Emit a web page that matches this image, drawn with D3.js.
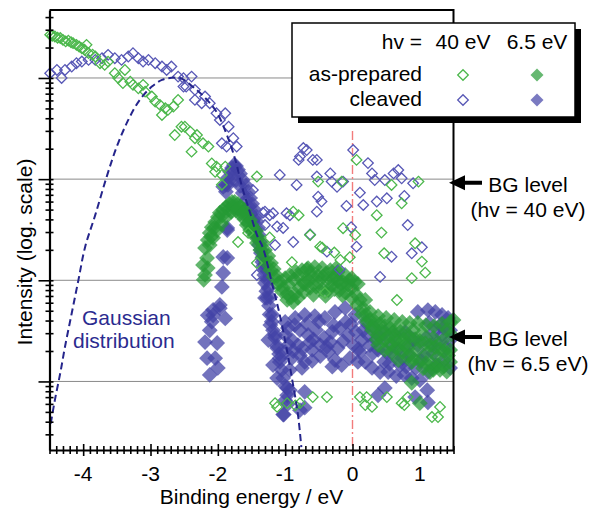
<!DOCTYPE html>
<html>
<head>
<meta charset="utf-8">
<script src="https://cdn.jsdelivr.net/npm/d3@7"></script>
<style>
body { margin: 0; background: #fff; }
svg text { font-family: "Liberation Sans", Arial, sans-serif; font-size: 21px; }
</style>
</head>
<body>
<div id="chart-container"></div>
<script>

// binding energy (eV), intensity (arb. units, log axis)
const openGreen40 = [
  [-4.49,2670],[-4.46,2620],[-4.42,2570],[-4.38,2500],[-4.34,2480],[-4.30,2380],[-4.26,2300],[-4.22,2340],
  [-4.18,2260],[-4.15,2210],[-4.10,2125],[-4.06,2050],[-4.02,1970],[-3.98,1900],[-3.95,2125],[-3.92,1760],
  [-3.86,1700],[-3.82,1630],[-3.75,1400],[-3.68,1350],[-3.63,1450],[-3.53,1115],[-3.48,1000],[-3.38,1200],
  [-3.41,890],[-3.30,920],[-3.26,855],[-3.18,790],[-3.11,855],[-3.08,733],[-2.98,655],[-2.93,584],
  [-2.86,542],[-2.78,503],[-2.83,431],[-2.74,484],[-2.66,522],[-2.59,607],[-2.64,273],[-2.54,330],
  [-2.49,330],[-2.41,295],[-2.31,273],[-2.34,254],[-2.22,226],[-2.14,210],[-2.39,187],[-2.09,143],
  [-2.02,133],[-1.89,133],[-2.04,118],[-1.94,110],[-1.94,88],[-1.42,106],[-0.88,47.7],[-0.80,44],
  [-0.51,94.5],[-0.16,94.5],[0.06,155],[0.58,87.6],[0.73,57.7],[0.98,94.5],[0.36,44],[-0.14,32.7],
  [0.04,28.1],[0.43,29.6],[-0.48,21.5],[-0.27,18.8],[-0.04,16.9],[0.47,18.5],[0.93,23.2],[1.03,15.3],
  [1.08,11.9],[0.88,10.5],[-0.41,7.49],[0.66,6.38],[-0.38,0.70],[0.21,0.70],[0.19,0.584],[0.29,0.56],
  [0.51,0.70],[0.77,0.584],[0.82,0.70],[1.30,0.56],[1.18,0.445],[1.27,0.445],[-0.18,15.9],[-0.97,0.61],
  [-0.78,0.61],[0.11,0.70],[0.73,0.61],[-1.15,0.61],[-0.85,0.58],[-1.12,0.56],[-0.59,0.70],[-1.70,23.9],
  [-1.55,29.4],[-0.63,28],[-0.45,21],[-1.23,26.5],[-0.90,15.1],[-1.42,14.8]
];

const openBlue40 = [
  [-4.49,1115],[-4.39,1200],[-4.32,1000],[-4.27,1200],[-4.17,1297],[-4.10,1400],[-4.02,1453],[-3.92,1510],
  [-3.82,1510],[-3.72,1570],[-3.63,1693],[-3.53,1570],[-3.43,1510],[-3.33,1628],[-3.26,1760],[-3.18,1570],
  [-3.11,1453],[-3.03,1510],[-2.93,1400],[-2.83,1297],[-2.76,1200],[-2.69,1297],[-2.59,1032],[-2.51,822],
  [-2.51,995],[-2.39,1032],[-2.47,822],[-2.34,763],[-2.34,607],[-2.19,655],[-2.12,563],[-2.24,563],
  [-2.02,448],[-1.89,448],[-1.97,385],[-1.84,330],[-1.94,226],[-1.77,254],[-1.72,210],[-1.87,210],
  [-1.08,110],[-0.80,155],[-0.68,194],[-0.83,87.6],[-1.30,47.7],[-1.18,46],[-0.98,46],[-0.53,106],
  [-0.53,155],[-0.33,114],[-0.31,94.5],[-0.23,84],[-0.14,94.5],[0.01,194],[0.23,144],[0.29,114],
  [0.33,98],[0.48,98],[0.61,114],[0.68,123],[0.73,102],[0.90,91],[-0.51,67],[-0.46,60],
  [-0.53,47.7],[-0.09,54.3],[0.11,73.5],[0.16,55.5],[0.36,60],[0.51,64.7],[0.77,68.2],[0.82,35.2],
  [-0.02,33.5],[0.06,21.5],[-0.38,19.2],[0.58,17.1],[0.88,18.5],[1.03,21.2],[-0.19,12.8],[0.41,10.8],
  [-0.73,203],[-0.78,167],[-0.59,155],[-1.42,11.3],[-1.23,44],[-1.03,32.9],[-0.88,23.9],[-0.63,28.4],
  [-0.93,44],[-1.30,35.2],[-1.48,78],[-1.33,46.5],[-1.12,34],[-1.15,22.3]
];

const filledGreen65 = [
  [-2.19,11.3],[-2.22,14.2],[-2.16,16.6],[-2.19,20.9],[-2.15,25.0],[-2.12,29.4],[-2.09,33.5],[-2.04,37.6],
  [-2.00,42.2],[-1.97,46.5],[-1.92,49.6],[-1.88,53.0],[-1.83,56.9],[-1.79,59.5],[-1.75,59.5],[-1.70,56.9],
  [-1.66,53.0],[-1.61,49.6],[-1.57,44.3],[-1.52,39.5],[-1.48,34.4],[-1.43,30.7],[-1.39,26.3],[-1.34,22.8],
  [-1.30,19.9],[-1.25,17.4],[-1.21,14.8],[-1.17,12.9],[-1.12,11.0],[-1.08,9.6],[-1.03,8.4],[-0.97,7.3],
  [-0.91,6.8],[-0.85,7.3],[-0.79,8.4],[-0.73,9.4],[-0.66,10.1],[-0.59,10.8],[-0.51,11.0],[-0.44,10.8],
  [-0.36,10.5],[-0.29,10.3],[-0.22,9.8],[-0.14,9.6],[-0.07,9.0],[-0.01,8.4],[0.05,7.3],[0.11,6.4],
  [0.16,5.3],[0.20,4.6],[0.26,4.05],[0.34,3.87],[0.41,3.70],[0.48,3.53],[0.56,3.37],[0.63,3.22],
  [0.71,3.08],[0.78,2.95],[0.85,2.75],[0.93,2.62],[1.00,2.51],[1.08,2.39],[1.15,2.29],[1.23,2.19],
  [1.30,2.09],[1.37,2.00],[1.45,2.05],
  [-2.12,22.3],[-2.07,26.3],[-2.01,31.4],[-1.95,36.0],[-1.88,42.2],[-1.80,47.5],[-1.73,48.5],[-1.67,45.3],
  [-1.61,40.4],[-1.57,35.2],[-1.52,31.4],[-1.46,27.5],[-1.42,23.4],[-1.37,19.9],[-1.33,17.0],[-1.28,14.8],
  [-1.22,12.6],[-1.17,10.8],[-1.11,9.2],[-1.05,7.8],[-0.97,6.4],[-0.88,6.1],[-0.81,6.7],[-0.72,7.7],
  [-0.63,8.4],[-0.54,8.6],[-0.45,8.2],[-0.36,8.0],[-0.27,8.2],[-0.19,8.0],[-0.10,7.5],[-0.01,6.7],
  [0.07,5.7],[0.14,4.6],[0.22,3.87],[0.29,3.22],[0.38,2.88],[0.47,2.57],[0.56,2.34],[0.65,2.14],
  [0.74,1.95],[0.83,1.78],[0.91,1.67],[1.00,1.59],[1.09,1.52],[1.18,1.49],[1.27,1.45],[1.36,1.42],[1.45,1.56],
  [-1.00,10.5],[-0.93,11.3],[-0.84,12.1],[-0.75,12.6],[-0.66,13.2],[-0.56,13.5],[-0.45,13.2],[-0.33,12.6],
  [-0.22,12.1],[-0.11,11.3],[-0.01,10.5],[0.08,9.2],[0.19,6.4],[0.26,4.86],[0.38,4.43],[0.50,4.24],
  [0.62,4.05],[0.74,3.87],[0.85,3.78],[0.97,3.78],[1.09,3.61],[1.21,3.53],[1.33,3.70],[1.45,3.87],
  [-0.95,9.0],[-0.87,10.2],[-0.80,11.0],[-0.70,9.2],[-0.62,11.8],[-0.50,9.6],[-0.40,11.6],[-0.31,9.0],
  [-0.25,10.9],[-0.17,9.3],[-0.05,10.0],[0.03,9.6],[-0.58,7.2],[-0.40,7.0],[-0.15,7.1],[-0.68,12.8],[-0.25,13.0],
  [0.30,3.5],[0.36,2.6],[0.44,3.1],[0.52,2.75],[0.60,3.0],[0.67,2.45],[0.76,2.6],[0.82,2.1],
  [0.90,3.2],[0.96,2.05],[1.04,3.0],[1.12,1.9],[1.20,2.7],[1.26,1.75],[1.33,2.5],[1.42,1.8],
  [1.47,2.9],[0.58,1.95],[0.88,1.55],[1.05,1.35],[1.20,1.30],[1.40,1.25],
  [-1.84,50],[-1.77,54],[-1.70,51],[-1.63,46],[-1.93,44],[-2.05,33],[-2.10,27],[-1.55,36.5],[-1.49,31],
  [-2.15,13.2],[-2.21,10.1],[1.50,4.05],[1.00,0.61],[1.40,3.22],[0.78,2.29],[0.48,2.05],[0.68,1.63],
  [1.15,1.24],[1.30,1.30],[0.38,2.29],[0.63,2.57],[0.88,0.97]
];

const filledBlue65 = [
  [-1.88,88],[-1.85,103],[-1.82,118],[-1.79,129],[-1.76,138],[-1.73,135],[-1.70,124],[-1.67,113],
  [-1.63,98],[-1.58,86],[-1.55,75],[-1.52,65],[-1.49,57],[-1.46,50],[-1.43,43],[-1.42,38],
  [-1.40,33],[-1.39,28],[-1.37,24],[-1.36,20],[-1.34,16.6],[-1.33,13.8],[-1.31,11.3],[-1.30,9.4],
  [-1.28,7.8],[-1.27,6.7],[-1.24,5.6],[-1.23,4.6],[-1.20,3.9],[-1.18,3.2],[-1.15,2.7],[-1.12,2.24],
  [-1.09,1.87],[-1.08,1.56],[-1.05,1.30],[-1.03,1.08],[-1.00,0.90],[-0.97,0.73],[-0.96,0.60],[-1.02,0.47],
  [-1.85,87.6],[-1.79,103],[-1.73,98],[-1.67,85.7],[-1.63,73],[-1.58,62.3],[-1.54,53],[-1.51,45.3],
  [-1.48,38.6],[-1.45,32.3],[-1.42,26.8],[-1.39,22.3],[-1.36,18.6],[-1.34,15.2],[-1.31,12.6],[-1.28,10.3],
  [-1.25,8.4],[-1.22,6.8],[-1.92,84],[-1.88,75],
  [-1.86,31.4],[-1.92,17.0],[-1.92,11.8],[-1.94,8.6],[-1.97,5.3],[-2.07,4.5],[-2.15,4.5],[-2.12,3.2],
  [-2.19,2.45],[-2.01,2.4],[-2.04,1.70],[-2.00,1.36],[-2.12,1.16],[-2.16,1.70],[-2.07,5.1],[-1.97,5.7],
  [-1.89,4.2],[-2.09,3.9],[-1.86,16.6],[-1.86,32.9],
  [-1.30,6.7],[-1.22,3.61],[-1.12,2.14],[-1.08,1.70],[-1.12,1.08],[-0.97,0.86],[-1.03,0.47],[-1.15,2.88],
  [-1.19,4.54],[-1.25,2.57],[-1.18,1.45],[-1.00,0.65],
  [-1.00,3.87],[-0.85,4.24],[-0.71,4.54],[-0.56,4.43],[-0.41,4.24],[-0.26,4.86],[-0.11,5.32],[0.04,4.54],
  [0.19,3.87],[0.33,3.37],[0.48,3.08],[0.63,2.88],[0.78,3.08],[0.97,4.86],[1.12,5.08],[1.23,4.86],
  [1.33,4.54],[1.42,4.24],
  [-1.00,2.88],[-0.90,2.57],[-0.78,3.22],[-0.66,2.88],[-0.54,3.22],[-0.42,2.69],[-0.30,3.08],[-0.19,3.37],
  [-0.07,2.88],[0.05,3.08],[0.14,2.57],[0.26,2.29],[0.38,2.05],[0.50,1.95],[0.62,1.78],[0.74,1.70],
  [0.85,1.82],[0.97,2.29],[1.09,2.69],[1.21,3.08],[1.33,2.88],[1.45,2.57],
  [-1.00,1.95],[-0.90,1.70],[-0.78,1.82],[-0.71,1.56],[-0.60,2.05],[-0.48,1.78],[-0.36,1.95],[-0.26,1.63],
  [-0.16,1.45],[-0.04,1.70],[0.08,1.56],[0.19,1.56],[0.29,1.36],[0.41,1.24],[0.53,1.24],[0.65,1.13],
  [0.77,1.16],[0.88,1.08],[1.00,1.03],[1.12,1.24],[1.24,1.45],[1.36,1.63],[1.45,1.36],
  [-0.96,3.37],[-0.81,2.29],[-0.63,2.45],[-0.48,2.29],[-0.33,2.45],[-0.22,2.14],[-0.10,3.87],[0.01,2.29],
  [0.11,1.95],[0.23,2.88],[0.35,2.57],[0.47,1.56],[0.59,2.29],[0.71,1.45],[0.83,2.29],[0.94,1.36],
  [1.06,1.82],[1.18,2.29],[1.30,3.61],[1.39,2.14],
  [-0.95,2.3],[-0.86,3.6],[-0.74,2.1],[-0.68,3.7],[-0.58,2.6],[-0.50,3.9],[-0.38,2.2],[-0.28,3.6],
  [-0.14,2.5],[-0.02,3.7],[0.09,2.1],[0.16,3.2],[0.30,1.9],[0.42,2.7],[0.55,1.5],[0.68,2.1],
  [0.80,1.4],[0.90,2.6],[1.02,1.6],[1.14,3.8],[1.26,2.4],[1.35,3.4],[1.45,3.2],[1.20,1.9],
  [-0.88,2.0],[-0.60,1.6],[-0.30,1.4],
  [-0.71,0.79],[-0.71,0.55],[-0.75,1.36],[-0.93,1.30],[-0.93,0.82],[-0.78,0.52],[0.48,0.86],[0.38,0.73],
  [0.93,0.70],[1.12,0.62],[1.11,0.82]
];

// dashed gaussian
const gaussCurve = [
  [-4.54,0.235],[-4.49,0.356],[-4.42,0.655],[-4.34,1.21],[-4.27,2.20],[-4.17,4.72],[-4.07,10.1],[-3.97,21.5],
  [-3.82,44.3],[-3.65,106],[-3.50,210],[-3.33,385],[-3.16,607],[-2.98,822],[-2.83,957],[-2.71,1000],
  [-2.56,1000],[-2.37,817],[-2.16,607],[-2.01,451],[-1.86,267],[-1.74,155],[-1.64,83.7],[-1.52,46.3],
  [-1.42,28.1],[-1.33,20.9],[-1.20,9.6],[-1.08,4.54],[-0.98,2.14],[-0.89,0.99],[-0.81,0.47],[-0.76,0.224]
];

const legendCols = ["40 eV", "6.5 eV"];
const legendRows = ["as-prepared", "cleaved"];
const bgLevels = [
  {label: "(hv = 40 eV)", level: 92},
  {label: "(hv = 6.5 eV)", level: 2.75}
];

const openColor = {green: "#4cb84c", blue: "#5858b6"};
const fillColor = {green: "#259a34", blue: "#4242a6"};

const svg = d3.select("#chart-container")
    .append("svg")
    .attr("width", 589)
    .attr("height", 508);

const x = d3.scaleLinear().domain([-4.5, 1.5]).range([49.5, 453.5]);
const y = d3.scaleLog().domain([0.21, 4700]).range([450, 10]);

const isMajorLog = d => Math.abs(Math.log10(d) - Math.round(Math.log10(d))) < 1e-6;
const isInt = d => Math.abs(d - Math.round(d)) < 1e-6;

svg.append("defs").append("clipPath").attr("id", "plotclip")
    .append("rect")
    .attr("x", x.range()[0]).attr("y", y.range()[1])
    .attr("width", x.range()[1] - x.range()[0])
    .attr("height", y.range()[0] - y.range()[1]);

// decade grid
svg.append("g")
    .selectAll("line")
    .data(y.ticks().filter(isMajorLog))
    .enter()
    .append("line")
    .attr("x1", x.range()[0]).attr("x2", x.range()[1])
    .attr("y1", d => y(d)).attr("y2", d => y(d))
    .attr("stroke", "#8a8a8a")
    .attr("stroke-width", 1);

// E_F marker
svg.append("line")
    .attr("x1", x(0)).attr("x2", x(0))
    .attr("y1", 131).attr("y2", y.range()[0])
    .attr("stroke", "#f27c7c")
    .attr("stroke-width", 1.4)
    .attr("stroke-dasharray", "9,3,2,3");

const openSym = d3.symbol().type(d3.symbolSquare).size(56)();
const fillSym = d3.symbol().type(d3.symbolSquare).size(125)();

function drawFilled(data, color, op){
    svg.append("g")
        .selectAll("path")
        .data(data)
        .enter()
        .append("path")
        .attr("d", fillSym)
        .attr("transform", d => `translate(${x(d[0])},${y(d[1])}) rotate(45)`)
        .attr("fill", color)
        .attr("fill-opacity", op);
}

function drawOpen(data, color){
    svg.append("g")
        .selectAll("path")
        .data(data)
        .enter()
        .append("path")
        .attr("d", openSym)
        .attr("transform", d => `translate(${x(d[0])},${y(d[1])}) rotate(45)`)
        .attr("fill", "none")
        .attr("stroke", color)
        .attr("stroke-width", 1.3);
}

drawFilled(filledBlue65, fillColor.blue, 0.74);
drawFilled(filledGreen65, fillColor.green, 0.72);
drawOpen(openBlue40, openColor.blue);
drawOpen(openGreen40, openColor.green);

svg.append("path")
    .datum(gaussCurve)
    .attr("clip-path", "url(#plotclip)")
    .attr("fill", "none")
    .attr("stroke", "#25258c")
    .attr("stroke-width", 2)
    .attr("stroke-dasharray", "7,4")
    .attr("d", d3.line().x(d => x(d[0])).y(d => y(d[1])).curve(d3.curveCatmullRom));

svg.append("text")
    .attr("x", 82).attr("y", 325)
    .attr("fill", "#2b2b8f")
    .text("Gaussian");
svg.append("text")
    .attr("x", 73).attr("y", 348)
    .attr("fill", "#2b2b8f")
    .text("distribution");

// frame
svg.append("line")
    .attr("x1", x.range()[0]).attr("x2", x.range()[1])
    .attr("y1", y.range()[1]).attr("y2", y.range()[1])
    .attr("stroke", "black").attr("stroke-width", 2);
svg.append("line")
    .attr("x1", x.range()[1]).attr("x2", x.range()[1])
    .attr("y1", y.range()[1] - 1).attr("y2", y.range()[0])
    .attr("stroke", "black").attr("stroke-width", 2);

// axes: ticks cross the axis line
const yAxis = svg.append("g")
    .attr("transform", `translate(${x.range()[0]},0)`)
    .call(d3.axisLeft(y).tickValues(y.ticks()).tickFormat("").tickSizeOuter(0));
yAxis.selectAll(".tick line")
    .attr("x1", 4)
    .attr("x2", d => isMajorLog(d) ? -11 : -4)
    .attr("stroke-width", 1.6);
yAxis.select(".domain").attr("stroke-width", 2.2);

const xAxis = svg.append("g")
    .attr("transform", `translate(0,${y.range()[0]})`)
    .call(d3.axisBottom(x).tickValues(x.ticks(60)).tickFormat("").tickSizeOuter(0));
xAxis.selectAll(".tick line")
    .attr("y1", d => isInt(d) ? -6 : -4)
    .attr("y2", d => isInt(d) ? 6 : 4)
    .attr("stroke-width", 1.6);
xAxis.select(".domain").attr("stroke-width", 2.2);

svg.append("g")
    .selectAll("text")
    .data(x.ticks(6).filter(isInt))
    .enter()
    .append("text")
    .attr("x", d => x(d))
    .attr("y", 481)
    .attr("text-anchor", "middle")
    .text(d => d < 0 ? "-" + Math.abs(d) : String(d));

svg.append("text")
    .attr("x", (x.range()[0] + x.range()[1]) / 2)
    .attr("y", 504)
    .attr("text-anchor", "middle")
    .text("Binding energy / eV");

svg.append("text")
    .attr("transform", `translate(32,${(y.range()[0] + y.range()[1]) / 2 + 22}) rotate(-90)`)
    .attr("text-anchor", "middle")
    .text("Intensity (log. scale)");

// legend
const lg = svg.append("g");
lg.append("rect")
    .attr("x", 298).attr("y", 29).attr("width", 283).attr("height", 94)
    .attr("fill", "black");
lg.append("rect")
    .attr("x", 292).attr("y", 23).attr("width", 283).attr("height", 94)
    .attr("fill", "white").attr("stroke", "black").attr("stroke-width", 1.5);
lg.append("text")
    .attr("x", 422).attr("y", 49)
    .attr("text-anchor", "end")
    .text("hv =");
const colX = [463, 537];
const rowY = [75, 100];
legendCols.forEach((c, i) => {
    lg.append("text")
        .attr("x", colX[i]).attr("y", 49)
        .attr("text-anchor", "middle")
        .text(c);
});
legendRows.forEach((r, j) => {
    lg.append("text")
        .attr("x", 422).attr("y", rowY[j] + 6)
        .attr("text-anchor", "end")
        .text(r);
    const key = j === 0 ? "green" : "blue";
    lg.append("path")
        .attr("d", openSym)
        .attr("transform", `translate(${colX[0]},${rowY[j]}) rotate(45)`)
        .attr("fill", "none")
        .attr("stroke", openColor[key])
        .attr("stroke-width", 1.3);
    lg.append("path")
        .attr("d", d3.symbol().type(d3.symbolSquare).size(85)())
        .attr("transform", `translate(${colX[1]},${rowY[j]}) rotate(45)`)
        .attr("fill", fillColor[key])
        .attr("fill-opacity", 0.7);
});

// background level arrows
bgLevels.forEach(b => {
    const yy = y(b.level);
    svg.append("path")
        .attr("d", `M449,${yy} L465,${yy - 7.5} L465,${yy - 2} L482,${yy - 2} L482,${yy + 2} L465,${yy + 2} L465,${yy + 7.5} Z`)
        .attr("fill", "black");
    svg.append("text")
        .attr("x", 528).attr("y", yy + 9)
        .attr("text-anchor", "middle")
        .text("BG level");
    svg.append("text")
        .attr("x", 528).attr("y", yy + 34)
        .attr("text-anchor", "middle")
        .text(b.label);
});
</script>
</body>
</html>
